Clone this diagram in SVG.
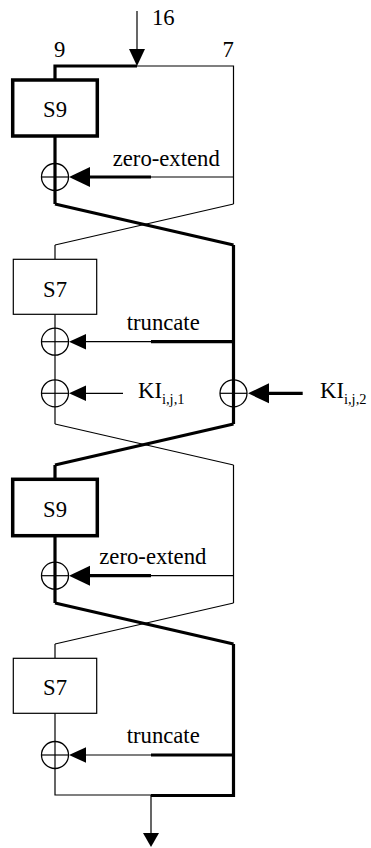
<svg xmlns="http://www.w3.org/2000/svg" width="371" height="848" viewBox="0 0 371 848">
<style>
  .thin{fill:none;stroke:#000;stroke-width:1.2}
  .thick{fill:none;stroke:#000;stroke-width:3.2}
  .box1{fill:#fff;stroke:#000;stroke-width:1.2}
  .box3{fill:#fff;stroke:#000;stroke-width:3.5}
  .xor{fill:none;stroke:#000;stroke-width:1.3}
  .head{fill:#000;stroke:none}
  text{font-family:"Liberation Serif","Times New Roman",serif;font-size:22.7px;fill:#000}
  .sub{font-size:14.5px}
</style>
<g id="connectors">
  <line class="thin" x1="137" y1="11" x2="137" y2="50"/>
  <polygon class="head" points="129,49 145,49 137,66"/>
  <polyline class="thick" points="55,80 55,66 137,66"/>
  <polyline class="thin" points="137,66 233.5,66 233.5,204"/>
  <line class="thick" x1="55" y1="136" x2="55" y2="204"/>
  <line class="thick" x1="90" y1="177" x2="151" y2="177"/>
  <line class="thin" x1="151" y1="177" x2="233.5" y2="177"/>
  <polygon class="head" points="69,177 90,167 90,187"/>
  <line class="thick" x1="55" y1="204" x2="233.5" y2="245"/>
  <line class="thin" x1="233.5" y1="204" x2="55" y2="245"/>
  <line class="thin" x1="55" y1="245" x2="55" y2="259"/>
  <line class="thin" x1="55" y1="314" x2="55" y2="424"/>
  <line class="thick" x1="233.5" y1="245" x2="233.5" y2="424"/>
  <line class="thin" x1="86" y1="341.7" x2="151" y2="341.7"/>
  <line class="thick" x1="151" y1="341.7" x2="233.5" y2="341.7"/>
  <polygon class="head" points="69,341.7 86,334 86,349.4"/>
  <line class="thin" x1="86" y1="393.3" x2="123" y2="393.3"/>
  <polygon class="head" points="69,393.3 86,385.6 86,401"/>
  <line class="thick" x1="268" y1="393.3" x2="302.7" y2="393.3"/>
  <polygon class="head" points="248,393.3 269,383.3 269,403.3"/>
  <line class="thin" x1="55" y1="424" x2="233.5" y2="465"/>
  <line class="thick" x1="233.5" y1="424" x2="55" y2="465"/>
  <line class="thick" x1="55" y1="465" x2="55" y2="480"/>
  <line class="thick" x1="55" y1="535" x2="55" y2="603"/>
  <line class="thin" x1="233.5" y1="465" x2="233.5" y2="603"/>
  <line class="thick" x1="90" y1="575.7" x2="151" y2="575.7"/>
  <line class="thin" x1="151" y1="575.7" x2="233.5" y2="575.7"/>
  <polygon class="head" points="69,575.7 90,565.7 90,585.7"/>
  <line class="thick" x1="55" y1="603" x2="233.5" y2="644"/>
  <line class="thin" x1="233.5" y1="603" x2="55" y2="644"/>
  <line class="thin" x1="55" y1="644" x2="55" y2="658"/>
  <polyline class="thin" points="55,713 55,795 151,795"/>
  <polyline class="thick" points="233.5,644 233.5,795.5 151,795.5"/>
  <line class="thin" x1="86" y1="755" x2="151" y2="755"/>
  <line class="thick" x1="151" y1="755" x2="233.5" y2="755"/>
  <polygon class="head" points="69,755 86,747.3 86,762.7"/>
  <line class="thin" x1="151" y1="795" x2="151" y2="834"/>
  <polygon class="head" points="143,833 159,833 151,847"/>
</g>
<g id="s9-1"><rect class="box3" x="12.7" y="80" width="84.6" height="56"/><text x="55" y="117" text-anchor="middle">S9</text></g>
<g id="s7-1"><rect class="box1" x="13.3" y="259.3" width="83.4" height="55"/><text x="55" y="296.5" text-anchor="middle">S7</text></g>
<g id="s9-2"><rect class="box3" x="12.7" y="479.3" width="84.6" height="56.4"/><text x="55" y="516.5" text-anchor="middle">S9</text></g>
<g id="s7-2"><rect class="box1" x="13.3" y="658.3" width="83.4" height="55"/><text x="55" y="695" text-anchor="middle">S7</text></g>
<g id="xor1"><circle class="xor" cx="55" cy="177" r="13.5"/><path class="thin" d="M41.5,177H68.5"/></g>
<g id="xor2"><circle class="xor" cx="55" cy="341.7" r="13.5"/><path class="thin" d="M41.5,341.7H68.5"/></g>
<g id="xor3"><circle class="xor" cx="55" cy="393.3" r="13.5"/><path class="thin" d="M41.5,393.3H68.5"/></g>
<g id="xor4"><circle class="xor" cx="233.5" cy="393.3" r="13.5"/><path class="thin" d="M220,393.3H247"/></g>
<g id="xor5"><circle class="xor" cx="55" cy="575.7" r="13.5"/><path class="thin" d="M41.5,575.7H68.5"/></g>
<g id="xor6"><circle class="xor" cx="55" cy="755" r="13.5"/><path class="thin" d="M41.5,755H68.5"/></g>
<g id="labels">
  <text x="152" y="25">16</text>
  <text x="54" y="57">9</text>
  <text x="222.5" y="57">7</text>
  <text x="112.7" y="165.5">zero-extend</text>
  <text x="126.7" y="330">truncate</text>
  <text x="138" y="398">KI<tspan class="sub" dy="6">i,j,1</tspan></text>
  <text x="320" y="398">KI<tspan class="sub" dy="6">i,j,2</tspan></text>
  <text x="99.3" y="564.3">zero-extend</text>
  <text x="126.7" y="743.3">truncate</text>
</g>
</svg>
